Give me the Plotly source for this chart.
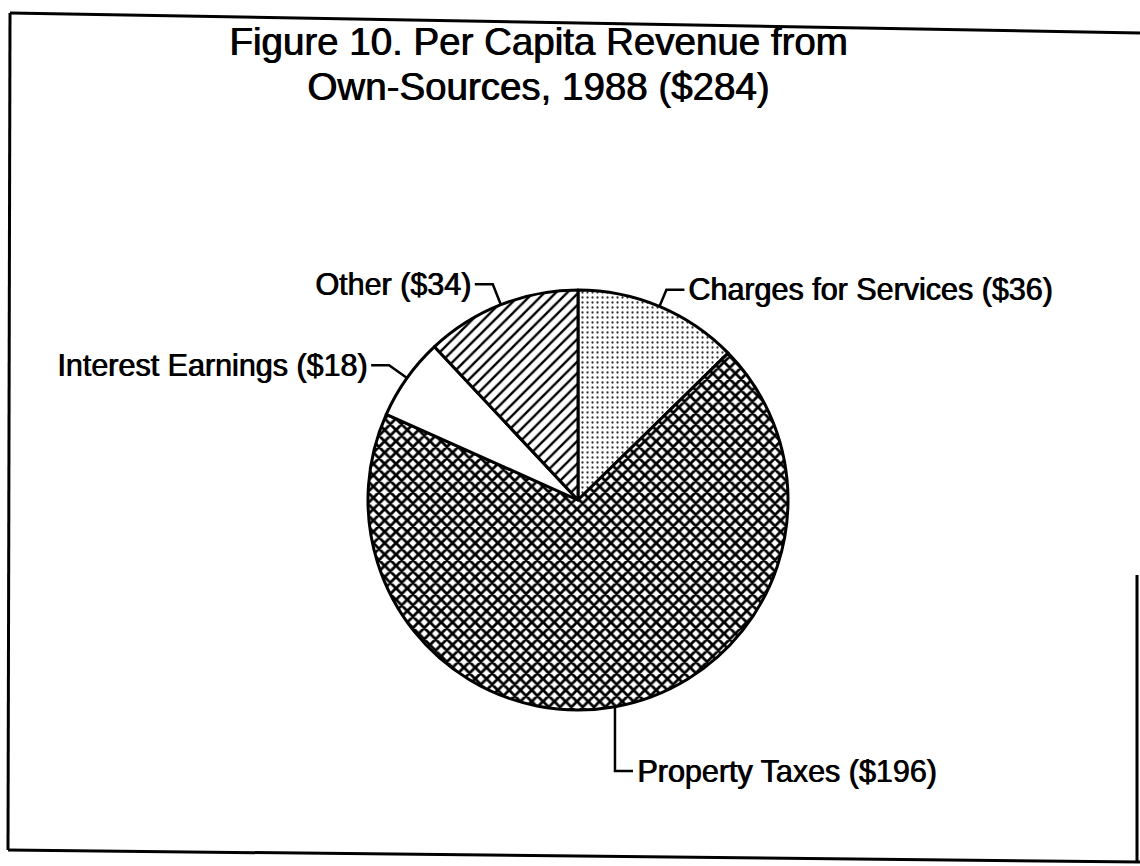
import math
import plotly.graph_objects as go

# ---- data ----
categories = ["Charges for Services", "Property Taxes", "Interest Earnings", "Other"]
values = [36, 196, 18, 34]
title_line1 = "Figure 10. Per Capita Revenue from"
title_line2 = "Own-Sources, 1988 ($284)"

# ---- style / layout ----
W, H = 1140, 866
CX, CY, R = 578, 500, 210
FONT = "Liberation Sans, Arial, Helvetica, sans-serif"
TEXT_SHADOW = "0.9px 0 0 black"
pattern = dict(
    shape=[".", "x", "", "/"],
    size=[5, 8, 8, 8],
    solidity=[0.16, 0.58, 0.3, 0.3],
    fgcolor=["#333333", "black", "black", "black"],
    bgcolor=["white"] * 4,
)
leader_ext = [18, None, 22, 22]   # radial extension of leader (None = vertical drop)
drop_y = 771                      # for vertical-drop leader
hseg = 18

fig = go.Figure()

fig.add_trace(go.Pie(
    labels=categories, values=values, sort=False, direction="clockwise",
    rotation=0, textinfo="none", showlegend=False,
    marker=dict(colors=["white"] * 4, line=dict(color="black", width=3),
                pattern=pattern),
    domain=dict(x=[(CX - R) / W, (CX + R) / W],
                y=[(H - CY - R) / H, (H - CY + R) / H]),
))

total = sum(values)
cum = 0
annotations = []
for i, (c, v) in enumerate(zip(categories, values)):
    mid = math.radians((cum + v / 2) / total * 360)
    cum += v
    ux, uy = math.sin(mid), -math.cos(mid)
    ex, ey = CX + R * ux, CY + R * uy
    if leader_ext[i] is None:
        bx, by = ex, drop_y
        side = 1
    else:
        bx, by = CX + (R + leader_ext[i]) * ux, CY + (R + leader_ext[i]) * uy
        side = 1 if ux >= 0 else -1
    tx = bx + side * hseg
    fig.add_trace(go.Scatter(x=[ex, bx, tx], y=[ey, by, by], mode="lines",
                             line=dict(color="black", width=2.5),
                             hoverinfo="skip", showlegend=False))
    annotations.append(dict(
        x=tx + side * 2, y=by, xref="x", yref="y", showarrow=False,
        text=f"{c} (${v})", xanchor="left" if side > 0 else "right",
        yanchor="middle",
        font=dict(family=FONT, size=30.5, color="black", shadow=TEXT_SHADOW),
    ))

annotations.append(dict(x=538, y=41, xref="x", yref="y", showarrow=False,
                        text=title_line1, xanchor="center", yanchor="middle",
                        font=dict(family=FONT, size=38.5, color="black", shadow=TEXT_SHADOW)))
annotations.append(dict(x=538, y=86, xref="x", yref="y", showarrow=False,
                        text=title_line2, xanchor="center", yanchor="middle",
                        font=dict(family=FONT, size=38.5, color="black", shadow=TEXT_SHADOW)))

# scanned frame
frame = [((10, 13), (1140, 33)), ((10, 13), (8, 850)),
         ((8, 850), (1140, 862)), ((1137, 575), (1137, 862))]
shapes = [dict(type="line", x0=a[0], y0=a[1], x1=b[0], y1=b[1], xref="x", yref="y",
               line=dict(color="black", width=3)) for a, b in frame]

fig.update_layout(
    width=W, height=H, margin=dict(l=0, r=0, t=0, b=0),
    paper_bgcolor="white", plot_bgcolor="white",
    xaxis=dict(range=[0, W], visible=False, fixedrange=True),
    yaxis=dict(range=[H, 0], visible=False, fixedrange=True),
    annotations=annotations, shapes=shapes,
)
fig.write_html("out.html")
